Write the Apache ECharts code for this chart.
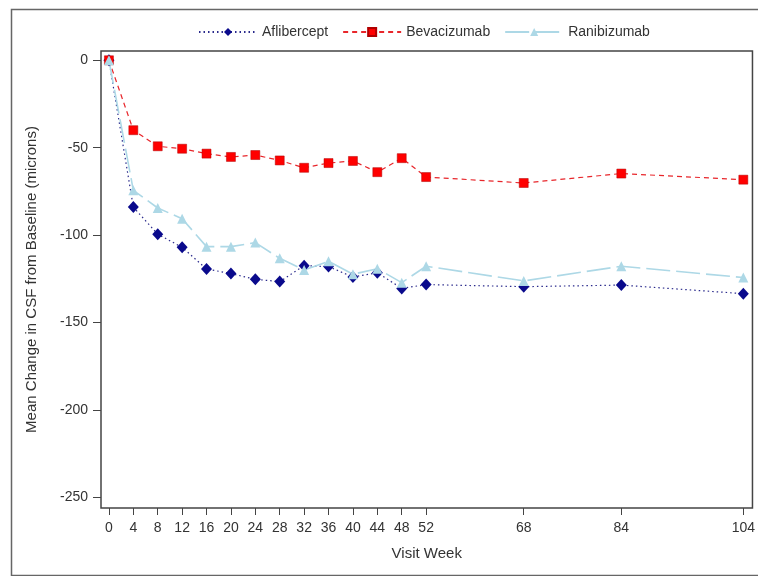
<!DOCTYPE html>
<html>
<head>
<meta charset="utf-8">
<script src="https://cdn.jsdelivr.net/npm/echarts@6/dist/echarts.min.js"></script>
<style>html,body{margin:0;padding:0;background:#fff;}#c{width:758px;height:576px;}</style>
</head>
<body>
<div id="c"></div>
<script>
var weeks = [0, 4, 8, 12, 16, 20, 24, 28, 32, 36, 40, 44, 48, 52, 68, 84, 104];
var aflibercept = [0, -84, -99.5, -107, -119.4, -122, -125.3, -126.6, -117.5, -118, -124, -121.5, -130.5, -128.3, -129.5, -128.6, -133.5];
var bevacizumab = [0, -40, -49.2, -50.6, -53.4, -55.3, -54.2, -57.3, -61.5, -58.8, -57.6, -64, -56, -66.8, -70.2, -64.8, -68.3];
var ranibizumab = [0, -74.4, -84.5, -90.6, -106.6, -106.6, -104.3, -113.3, -120, -115, -122.4, -119.2, -127.2, -117.8, -126.2, -117.8, -124.3];
var yTicks = [0, -50, -100, -150, -200, -250];

function pairs(vals) { return weeks.map(function (w, i) { return [w, vals[i]]; }); }

var font = 'Liberation Sans, Arial, sans-serif';
var chart = echarts.init(document.getElementById('c'), null, { renderer: 'canvas' });
chart.setOption({
  animation: false,
  backgroundColor: '#fff',
  textStyle: { fontFamily: font },
  graphic: [{
    type: 'rect', left: 9, top: 7, silent: true,
    shape: { width: 800, height: 566 },
    style: { fill: 'none', stroke: '#666', lineWidth: 1.5 }
  }],
  legend: {
    left: 193, top: 20,
    itemWidth: 58, itemHeight: 10, itemGap: 14,
    textStyle: { fontSize: 14, color: '#333', fontFamily: font },
    data: ['Aflibercept', 'Bevacizumab', 'Ranibizumab']
  },
  grid: {
    left: 101, top: 51, right: 3, bottom: 68,
    show: true, borderColor: '#444', borderWidth: 1.5, backgroundColor: 'transparent'
  },
  xAxis: {
    type: 'value', min: -1.3, max: 105.5,
    name: 'Visit Week', nameLocation: 'middle', nameGap: 38,
    nameTextStyle: { fontSize: 15, color: '#333', fontFamily: font },
    axisLine: { show: false, onZero: false },
    splitLine: { show: false },
    axisTick: { show: true, inside: false, length: 7, lineStyle: { color: '#444' }, customValues: weeks },
    axisLabel: { fontSize: 14, color: '#333', margin: 13, customValues: weeks, fontFamily: font }
  },
  yAxis: {
    type: 'value', min: -256.1, max: 5.3,
    name: 'Mean Change in CSF from Baseline (microns)', nameLocation: 'middle', nameGap: 62,
    nameTextStyle: { fontSize: 15, color: '#333', fontFamily: font },
    axisLine: { show: false, onZero: false },
    splitLine: { show: false },
    axisTick: { show: true, inside: false, length: 8, lineStyle: { color: '#444' }, customValues: yTicks },
    axisLabel: { fontSize: 14, color: '#333', margin: 13, customValues: yTicks, fontFamily: font }
  },
  series: [
    {
      name: 'Aflibercept', type: 'line', data: pairs(aflibercept),
      symbol: 'diamond', symbolSize: [11, 12],
      itemStyle: { color: '#0a0a8c' },
      lineStyle: { color: '#2a2a8c', width: 1.2, type: [1.5, 3] }
    },
    {
      name: 'Bevacizumab', type: 'line', data: pairs(bevacizumab),
      symbol: 'rect', symbolSize: 9,
      itemStyle: { color: '#ff0000', borderColor: '#b00000', borderWidth: 0.5 },
      lineStyle: { color: '#e8262b', width: 1.2, type: [5, 4] }
    },
    {
      name: 'Ranibizumab', type: 'line', data: pairs(ranibizumab),
      symbol: 'triangle', symbolSize: 10,
      itemStyle: { color: '#add8e6' },
      lineStyle: { color: '#add8e6', width: 1.6, type: [24, 6] }
    }
  ]
});
</script>
</body>
</html>
